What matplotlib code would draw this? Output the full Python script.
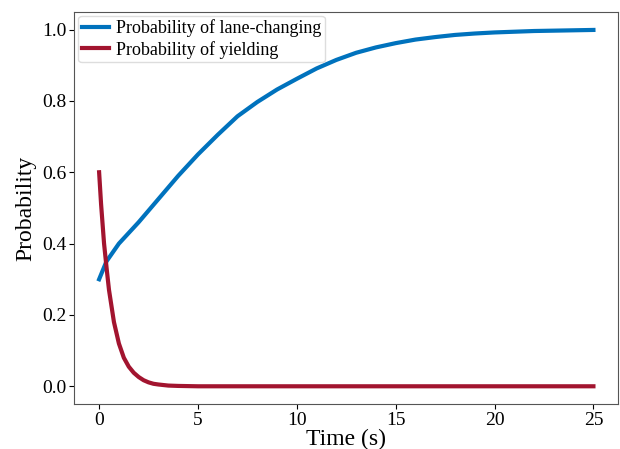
import matplotlib
matplotlib.use('Agg')
import matplotlib.pyplot as plt

plt.rcParams['font.family'] = ['Liberation Serif', 'DejaVu Serif']

# time axis (s) and read-off probabilities
t_lane = [0, 0.37, 1, 1.5, 2, 3, 4, 5, 6, 7, 8, 9, 10, 11, 12, 13, 14, 15,
          16, 17, 18, 19, 20, 21, 22, 23, 24, 25]
p_lane = [0.30, 0.35, 0.40, 0.43, 0.46, 0.525, 0.59, 0.65, 0.705, 0.757, 0.797,
          0.832, 0.862, 0.891, 0.915, 0.935, 0.95, 0.962, 0.972, 0.979, 0.985,
          0.989, 0.992, 0.994, 0.996, 0.997, 0.998, 0.999]

t_yield = [0, 0.1, 0.25, 0.4, 0.5, 0.75, 1, 1.25, 1.5, 1.75, 2, 2.25, 2.5, 2.75,
           3, 3.5, 4, 5, 25]
p_yield = [0.60, 0.51, 0.40, 0.32, 0.27, 0.18, 0.12, 0.08, 0.055, 0.038, 0.026,
           0.017, 0.011, 0.007, 0.005, 0.002, 0.001, 0.0, 0.0]

fig = plt.figure(figsize=(6.2, 4.49), dpi=100)
ax = fig.add_axes([0.12, 0.10, 0.877, 0.873])
ax.plot(t_lane, p_lane, color='#0072BD', lw=3, label='Probability of lane-changing')
ax.plot(t_yield, p_yield, color='#A2142F', lw=3, label='Probability of yielding')
ax.set_xlabel('Time (s)', fontsize=17, labelpad=0)
ax.set_ylabel('Probability', fontsize=17, labelpad=4)
ax.set_xticks([0, 5, 10, 15, 20, 25])
ax.set_yticks([0.0, 0.2, 0.4, 0.6, 0.8, 1.0])
ax.tick_params(labelsize=14, pad=2)
for s in ax.spines.values():
    s.set_color('#555555')
ax.legend(loc='upper left', fontsize=13, borderaxespad=0.2, handlelength=1.5,
          handletextpad=0.4, labelspacing=0.2, borderpad=0.2, framealpha=1,
          edgecolor='#dddddd')
fig.savefig('out.png')
